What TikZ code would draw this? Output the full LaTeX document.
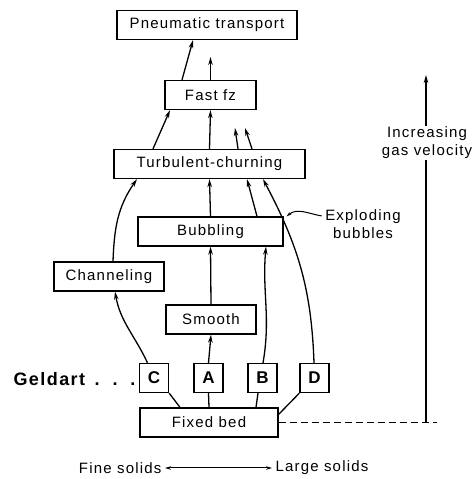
\documentclass[tikz,border=0pt]{standalone}
\usepackage{fontspec}
\setmainfont{Liberation Sans}[LetterSpace=8]
\usetikzlibrary{arrows.meta}

\begin{document}
\begin{tikzpicture}[x=1pt,y=1pt,
  font=\fontsize{15}{18}\selectfont,
  caja/.style={draw, line width=1.3pt, minimum height=29pt, inner sep=0pt},
  letra/.style={draw, line width=1.3pt, minimum size=29pt, inner sep=0pt, font=\bfseries\fontsize{17}{18}\selectfont},
  linea/.style={line width=1.3pt},
  flecha/.style={line width=1.3pt, -{Stealth[length=8pt,width=4.5pt]}}]

\useasboundingbox (0,0) rectangle (476,479);

% Regímenes
\node[caja, minimum width=180pt] (neum) at (207,454) {Pneumatic transport};
\node[caja, minimum width=91pt] (rapido) at (210.5,384) {Fast fz};
\node[caja, minimum width=191pt] (turb) at (209.5,315) {Turbulent-churning};
\node[caja, minimum width=145pt] (burb) at (210.5,247.5) {Bubbling};
\node[caja, minimum width=110pt] (canal) at (109,202.5) {Channeling};
\node[caja, minimum width=90pt] (lisa) at (211,159.5) {Smooth};
\node[caja, minimum width=138pt] (fijo) at (209,56.5) {Fixed bed};

% Grupos de Geldart
\node[letra] (C) at (154,101) {C};
\node[letra] (A) at (208.5,101) {A};
\node[letra] (B) at (262.5,101) {B};
\node[letra] (D) at (314.5,101) {D};
\node[anchor=west, font=\bfseries\fontsize{18}{20}\selectfont] (geldart) at (10,100) {Geldart\,\ .\ \ .\ \ .};

% Lecho fijo a los grupos
\draw[linea] ([xshift=-29]fijo.north) -- (C.south east);
\draw[linea] (fijo.north) -- (A.south);
\draw[linea] ([xshift=47]fijo.north) -- ([xshift=-4.5]B.south);
\draw[linea] ([yshift=-7]fijo.north east) -- (D.south west);

% Transiciones
\draw[flecha] ([xshift=-6.5]C.north) to[out=115, in=-80] ([xshift=6]canal.south);
\draw[flecha] ([xshift=4]canal.north) to[out=88, in=-125] ([xshift=-72.5]turb.south);
\draw[flecha] (A.north) -- (lisa.south);
\draw[flecha] (lisa.north) -- (burb.south);
\draw[flecha] ([xshift=0.5]B.north) to[out=80, in=-95] ([xshift=55.5]burb.south);
\draw[flecha] (burb.north) -- (turb.south);
\draw[flecha] ([xshift=46.5]burb.north) -- ([xshift=37.5]turb.south);
\draw[flecha] ([xshift=-0.5]D.north) to[out=92, in=-62] ([xshift=53.5]turb.south);

% Salidas del regimen turbulento
\coordinate (sal1) at (235,351);
\coordinate (sal2) at (245,351);
\coordinate (sal3) at (210.5,422);
\draw[flecha] ([xshift=28.5]turb.north) -- (sal1);
\draw[flecha] ([xshift=42.5]turb.north) -- (sal2);
\draw[flecha] ([xshift=-56.5]turb.north) -- ([xshift=-40.5]rapido.south);
\draw[flecha] (turb.north) -- (rapido.south);
\draw[flecha] ([xshift=-28.5]rapido.north) -- ([xshift=-14]neum.south);
\draw[flecha] (rapido.north) -- (sal3);

% Burbujas que explotan
\node[align=center] (expl) at (363,255) {Exploding\\bubbles};
\draw[line width=1pt, -{Stealth[length=5pt,width=3pt]}] ([yshift=8]expl.west) to[out=170, in=40] ([xshift=3]burb.north east);

% Velocidad del gas
\coordinate (velbase) at (426,56.5);
\coordinate (velfin) at (437,56.5);
\coordinate (veltope) at (426,404);
\draw[linea, dash pattern=on 7pt off 4pt] (fijo.east) -- (velfin);
\draw[flecha] (velbase) -- (veltope);
\node[fill=white, align=center, inner sep=1pt] (vel) at (427,336) {Increasing\\gas velocity};

% Texto inferior
\node[anchor=east] (finos) at (165,11) {Fine solids};
\node[anchor=west] (gruesos) at (272,11) {Large solids};
\draw[line width=1pt, {Stealth[length=6pt,width=3.5pt]}-{Stealth[length=6pt,width=3.5pt]}] (finos.east) -- (gruesos.west);

\end{tikzpicture}
\end{document}
